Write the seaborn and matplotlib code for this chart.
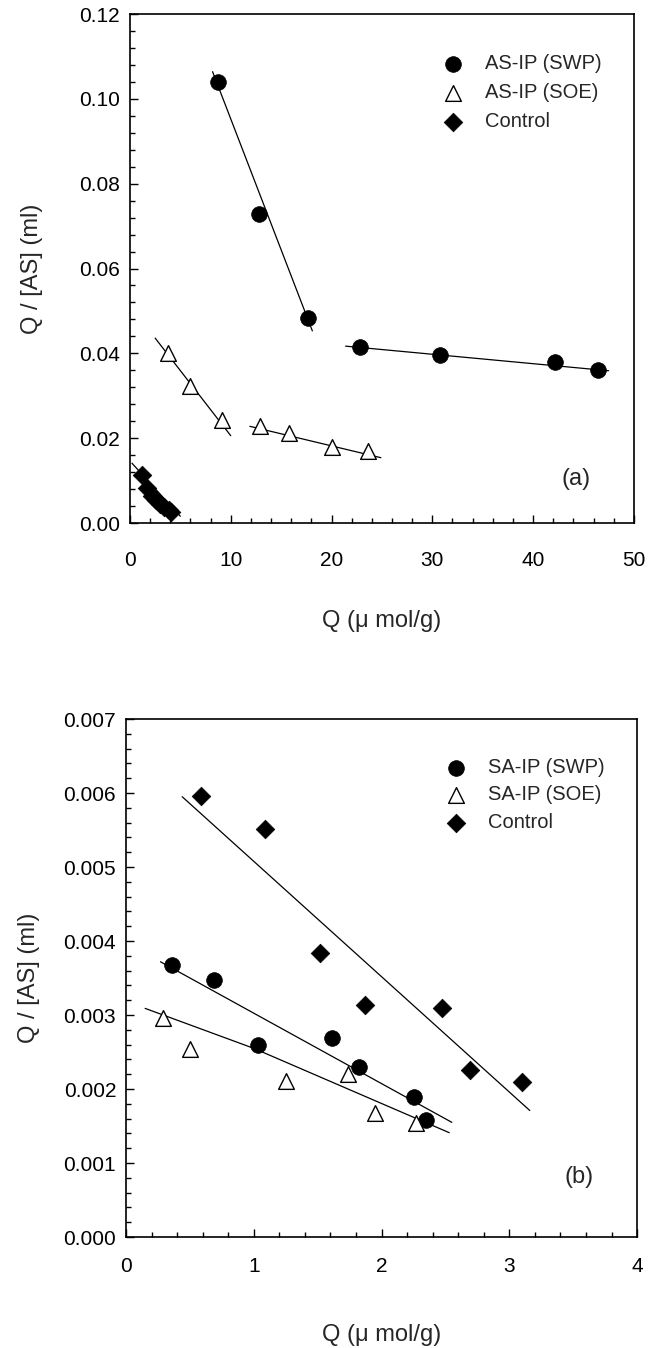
import matplotlib
matplotlib.use("Agg")
import matplotlib.pyplot as plt
import seaborn as sns
from matplotlib.ticker import AutoMinorLocator, FormatStrFormatter

sns.set_style("ticks")
plt.rcParams['font.family'] = ['Liberation Sans', 'DejaVu Sans']

# ---- panel (a) data ----
a_swp_q = [8.7, 12.8, 17.7, 22.8, 30.8, 42.2, 46.4]
a_swp_r = [0.1039, 0.0729, 0.0484, 0.0414, 0.0397, 0.0380, 0.0360]
a_soe_q = [3.8, 6.0, 9.1, 12.9, 15.8, 20.0, 23.6]
a_soe_r = [0.0402, 0.0322, 0.0243, 0.0228, 0.0213, 0.0179, 0.0169]
a_ctl_q = [1.2, 1.7, 2.2, 2.6, 3.0, 3.4, 3.9, 4.1]
a_ctl_r = [0.0113, 0.0083, 0.0064, 0.0054, 0.0046, 0.0038, 0.0031, 0.0027]

# fitted lines of panel (a) (end points)
a_fit_swp1 = ([8.2, 18.1], [0.1064, 0.0453])
a_fit_swp2 = ([21.4, 47.5], [0.0417, 0.0359])
a_fit_soe1 = ([2.5, 10.0], [0.0436, 0.0206])
a_fit_soe2 = ([11.9, 24.9], [0.0228, 0.0154])
a_fit_ctl = ([0.2, 5.0], [0.0141, 0.0016])

# ---- panel (b) data ----
b_swp_q = [0.36, 0.69, 1.03, 1.61, 1.82, 2.25, 2.35]
b_swp_r = [0.00367, 0.00347, 0.00259, 0.00269, 0.00230, 0.00189, 0.00158]
b_soe_q = [0.29, 0.50, 1.25, 1.74, 1.95, 2.27]
b_soe_r = [0.00296, 0.00254, 0.00211, 0.00221, 0.00167, 0.00154]
b_ctl_q = [0.59, 1.09, 1.52, 1.87, 2.47, 2.69, 3.10]
b_ctl_r = [0.00596, 0.00551, 0.00384, 0.00313, 0.00309, 0.00226, 0.00209]

b_fit_swp = ([0.27, 2.55], [0.00372, 0.00155])
b_fit_soe = ([0.15, 1.0, 2.53], [0.00309, 0.00255, 0.00141])
b_fit_ctl = ([0.44, 3.16], [0.00595, 0.00171])

FS = 15      # tick labels
LFS = 17     # axis labels
LEG = 14.5   # legend

fig = plt.figure(figsize=(6.63, 13.48), dpi=100)
ax1 = fig.add_axes([0.196, 0.612, 0.760, 0.3776])
ax2 = fig.add_axes([0.190, 0.0823, 0.771, 0.3843])


def draw(ax, swp, soe, ctl, fits, labels):
    for fx, fy in fits:
        sns.lineplot(x=fx, y=fy, color='black', linewidth=0.9, ax=ax,
                     sort=False, estimator=None)
    sns.scatterplot(x=swp[0], y=swp[1], marker='o', s=128, color='black',
                    edgecolor='black', linewidth=0.5, label=labels[0], ax=ax, zorder=3)
    sns.scatterplot(x=soe[0], y=soe[1], marker='^', s=128, color='white',
                    edgecolor='black', linewidth=1.0, label=labels[1], ax=ax, zorder=3)
    sns.scatterplot(x=ctl[0], y=ctl[1], marker='D', s=90, color='black',
                    edgecolor='black', linewidth=0.5, label=labels[2], ax=ax, zorder=3)
    for sp in ax.spines.values():
        sp.set_linewidth(1.2)
        sp.set_color('black')
    ax.xaxis.set_minor_locator(AutoMinorLocator(5))
    ax.yaxis.set_minor_locator(AutoMinorLocator(5))
    ax.tick_params(which='both', direction='in', top=False, right=False,
                   width=1, labelsize=FS, colors='black')
    ax.tick_params(which='major', length=6)
    ax.tick_params(which='minor', length=3.5)


draw(ax1, (a_swp_q, a_swp_r), (a_soe_q, a_soe_r), (a_ctl_q, a_ctl_r),
     [a_fit_swp1, a_fit_swp2, a_fit_soe1, a_fit_soe2, a_fit_ctl],
     ['AS-IP (SWP)', 'AS-IP (SOE)', 'Control'])
ax1.set_xlim(0, 50)
ax1.set_ylim(0, 0.12)
ax1.set_xticks([0, 10, 20, 30, 40, 50])
ax1.set_yticks([0, 0.02, 0.04, 0.06, 0.08, 0.10, 0.12])
ax1.yaxis.set_major_formatter(FormatStrFormatter('%.2f'))
ax1.tick_params(axis='x', which='major', pad=20)
ax1.tick_params(axis='y', which='major', pad=7)
ax1.set_ylabel('Q / [AS] (ml)', fontsize=LFS, labelpad=26)
ax1.set_xlabel('Q (\u03bc mol/g)', fontsize=LFS, labelpad=29)
ax1.legend(loc='upper left', bbox_to_anchor=(0.621, 0.921), frameon=False,
           fontsize=LEG, handlelength=1.0, handletextpad=1.1, labelspacing=0.5,
           borderpad=0, borderaxespad=0, scatterpoints=1)
ax1.text(0.885, 0.086, '(a)', transform=ax1.transAxes, fontsize=LFS,
         ha='center', va='center')

draw(ax2, (b_swp_q, b_swp_r), (b_soe_q, b_soe_r), (b_ctl_q, b_ctl_r),
     [b_fit_swp, b_fit_soe, b_fit_ctl],
     ['SA-IP (SWP)', 'SA-IP (SOE)', 'Control'])
ax2.set_xlim(0, 4)
ax2.set_ylim(0, 0.007)
ax2.set_xticks([0, 1, 2, 3, 4])
ax2.set_yticks([0, 0.001, 0.002, 0.003, 0.004, 0.005, 0.006, 0.007])
ax2.yaxis.set_major_formatter(FormatStrFormatter('%.3f'))
ax2.tick_params(axis='x', which='major', pad=14)
ax2.tick_params(axis='y', which='major', pad=7)
ax2.set_ylabel('Q / [AS] (ml)', fontsize=LFS, labelpad=17)
ax2.set_xlabel('Q (\u03bc mol/g)', fontsize=LFS, labelpad=35)
ax2.legend(loc='upper left', bbox_to_anchor=(0.626, 0.925), frameon=False,
           fontsize=LEG, handlelength=1.0, handletextpad=1.1, labelspacing=0.42,
           borderpad=0, borderaxespad=0, scatterpoints=1)
ax2.text(0.887, 0.116, '(b)', transform=ax2.transAxes, fontsize=LFS,
         ha='center', va='center')

fig.savefig('out.png', dpi=100)
